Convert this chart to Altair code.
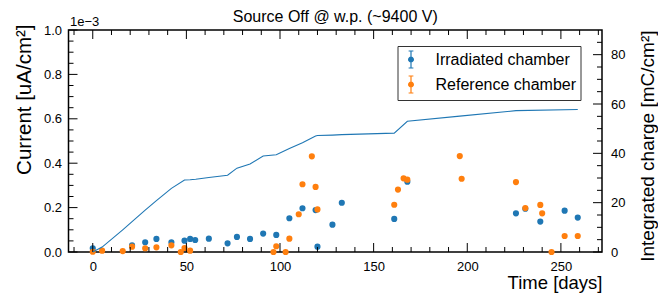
import altair as alt
import pandas as pd

# ---------------- data ----------------
series_names = ["Irradiated chamber", "Reference chamber"]
series_colors = ["#1f77b4", "#ff7f0e"]

irr_day = [0, 21, 28, 34, 42, 49, 52, 54.7, 62, 72, 77, 84, 91, 98, 105, 112,
           119, 120, 128, 133, 161, 168, 226, 231, 239, 252, 259]
irr_cur = [0.017, 0.030, 0.044, 0.059, 0.044, 0.051, 0.059, 0.054, 0.060, 0.039,
           0.068, 0.059, 0.083, 0.077, 0.152, 0.197, 0.189, 0.024, 0.123, 0.222,
           0.149, 0.317, 0.174, 0.195, 0.137, 0.186, 0.155]

ref_day = [0, 5, 16, 21, 28, 34, 42, 47, 49, 52, 96.5, 98, 103, 105, 110, 112,
           117, 119, 120, 161, 163, 166, 168, 196, 197, 226, 231, 239, 240, 245,
           252, 259]
ref_cur = [0.001, 0.006, 0.004, 0.024, 0.017, 0.021, 0.030, 0.0, 0.018, 0.006,
           0.0, 0.026, 0.0, 0.060, 0.170, 0.305, 0.431, 0.293, 0.192, 0.213,
           0.281, 0.332, 0.326, 0.432, 0.330, 0.315, 0.198, 0.212, 0.174, 0.0,
           0.072, 0.072]

chg_day = [0, 5, 16, 21, 28, 34, 42, 49, 52, 55, 62, 72, 77, 84, 91, 98, 105,
           112, 119, 120, 128, 133, 161, 168, 196, 226, 259]
chg_val = [0, 2.0, 9.0, 12.3, 17.0, 20.8, 25.8, 29.2, 29.3, 29.5, 30.2, 31.1,
           34.0, 35.7, 38.9, 39.4, 42.0, 44.3, 47.0, 47.2, 47.4, 47.6, 48.2,
           53.0, 55.1, 57.3, 57.8]

x_major = [0, 50, 100, 150, 200, 250]
x_minor = [-10, 10, 20, 30, 40, 60, 70, 80, 90, 110, 120, 130, 140, 160, 170,
           180, 190, 210, 220, 230, 240, 260, 270]
yl_major = [0.0, 0.2, 0.4, 0.6, 0.8, 1.0]
yl_minor = [0.05, 0.1, 0.15, 0.25, 0.3, 0.35, 0.45, 0.5, 0.55, 0.65, 0.7,
            0.75, 0.85, 0.9, 0.95]
yr_major = [0, 20, 40, 60, 80]
yr_minor = [5, 10, 15, 25, 30, 35, 45, 50, 55, 65, 70, 75, 85]
offset_text = ["1e\u22123"]
title_text = ["Source Off @ w.p. (~9400 V)"]

x_title = "Time [days]"
yl_title = "Current [uA/cm\u00b2]"
yr_title = "Integrated charge [mC/cm\u00b2]"

# ---------------- style ----------------
W = 533.5
H = 222
MAJ = 9
MIN = 5
FONT = "Liberation Sans"

xs = alt.Scale(domain=[-12.95, 271.95], nice=False, zero=False)
yls = alt.Scale(domain=[0, 1], nice=False, zero=False)
yrs = alt.Scale(domain=[0, 90], nice=False, zero=False)

x_axis = alt.Axis(
    title=x_title, values=x_major, format="d", ticks=False, tickSize=0,
    domain=False, grid=False, labelPadding=8, labelFlush=False,
    titleAnchor="end", titleAlign="right", titleBaseline="alphabetic",
    titleFontSize=18.5, titleX=W, titleY=36.5)
yl_axis = alt.Axis(
    title=yl_title, values=yl_major, format=".1f", ticks=False, tickSize=0,
    domain=False, grid=False, labelPadding=7, labelFlush=False,
    titleAngle=270, titleAlign="right", titleBaseline="middle",
    titleFontSize=20.5, titleX=-44, titleY=-6)
yr_axis = alt.Axis(
    orient="right", title=yr_title, values=yr_major, format="d",
    ticks=False, tickSize=0, domain=False, grid=False, labelPadding=8.5,
    labelFlush=False, titleAngle=270, titleAlign="right",
    titleBaseline="middle", titleX=45, titleY=0)

pts = pd.DataFrame({
    "day": irr_day + ref_day,
    "cur": irr_cur + ref_cur,
    "series": [series_names[0]] * len(irr_day) + [series_names[1]] * len(ref_day),
})
chg = pd.DataFrame({"day": chg_day, "charge": chg_val})

err_symbol = ("M0,-1L0,1M-0.28,-1L0.28,-1M-0.28,1L0.28,1"
              "M0.28,0A0.28,0.28,0,1,1,-0.28,0A0.28,0.28,0,1,1,0.28,0Z")


def make_legend():
    return alt.Legend(
        title=None, orient="none", legendX=329, legendY=16,
        symbolType=err_symbol, symbolSize=289,
        symbolStrokeWidth=1.2, symbolOpacity=1,
        labelFontSize=16, labelFont=FONT, labelColor="black",
        labelOffset=15, rowPadding=2, padding=4,
        strokeColor="#333333", fillColor="white", cornerRadius=0)


series_scale = alt.Scale(domain=series_names, range=series_colors)

points = alt.Chart(pts).mark_circle(size=38, opacity=1, strokeWidth=0).encode(
    x=alt.X("day:Q", scale=xs, axis=x_axis),
    y=alt.Y("cur:Q", scale=yls, axis=yl_axis),
    color=alt.Color("series:N", scale=series_scale, legend=make_legend()),
    stroke=alt.Stroke("series:N", scale=series_scale, legend=make_legend()),
)


def xticks(vals, y0, y1):
    return alt.Chart(pd.DataFrame({"day": vals})).mark_rule(
        color="black", strokeWidth=1).encode(
        x=alt.X("day:Q", scale=xs, axis=x_axis),
        y=alt.value(y0), y2=alt.value(y1))


def yticks(vals, field, scale, axis, x0, x1):
    return alt.Chart(pd.DataFrame({field: vals})).mark_rule(
        color="black", strokeWidth=1).encode(
        y=alt.Y(field + ":Q", scale=scale, axis=axis),
        x=alt.value(x0), x2=alt.value(x1))


offset_lbl = alt.Chart(pd.DataFrame({"t": offset_text})).mark_text(
    align="left", baseline="alphabetic", fontSize=13, font=FONT,
    color="black").encode(text="t:N", x=alt.value(1.5), y=alt.value(-4))

title_lbl = alt.Chart(pd.DataFrame({"t": title_text})).mark_text(
    align="center", baseline="alphabetic", fontSize=16, font=FONT,
    color="black").encode(text="t:N", x=alt.value(W / 2), y=alt.value(-8.5))

left_group = alt.layer(
    points,
    xticks(x_major, H, H - MAJ), xticks(x_minor, H, H - MIN),
    xticks(x_major, 0, MAJ), xticks(x_minor, 0, MIN),
    yticks(yl_major, "cur", yls, yl_axis, 0, MAJ),
    yticks(yl_minor, "cur", yls, yl_axis, 0, MIN),
    offset_lbl, title_lbl,
)

line = alt.Chart(chg).mark_line(color="#1f77b4", strokeWidth=1.1).encode(
    x=alt.X("day:Q", scale=xs, axis=x_axis),
    y=alt.Y("charge:Q", scale=yrs, axis=yr_axis),
)

right_group = alt.layer(
    line,
    yticks(yr_major, "charge", yrs, yr_axis, W, W - MAJ),
    yticks(yr_minor, "charge", yrs, yr_axis, W, W - MIN),
)

chart = alt.layer(left_group, right_group).resolve_scale(
    y="independent"
).properties(
    width=W, height=H,
    padding={"left": 60.5, "top": 22, "right": 56, "bottom": 41},
    autosize=alt.AutoSizeParams(type="none"),
    background="white",
).configure_view(
    stroke="black", strokeWidth=1.5
).configure_axis(
    labelFont=FONT, labelFontSize=13, labelColor="black",
    titleFont=FONT, titleFontSize=19, titleFontWeight="normal",
    titleColor="black",
)

chart.save("out.html", embed_options={"renderer": "svg", "actions": False})
